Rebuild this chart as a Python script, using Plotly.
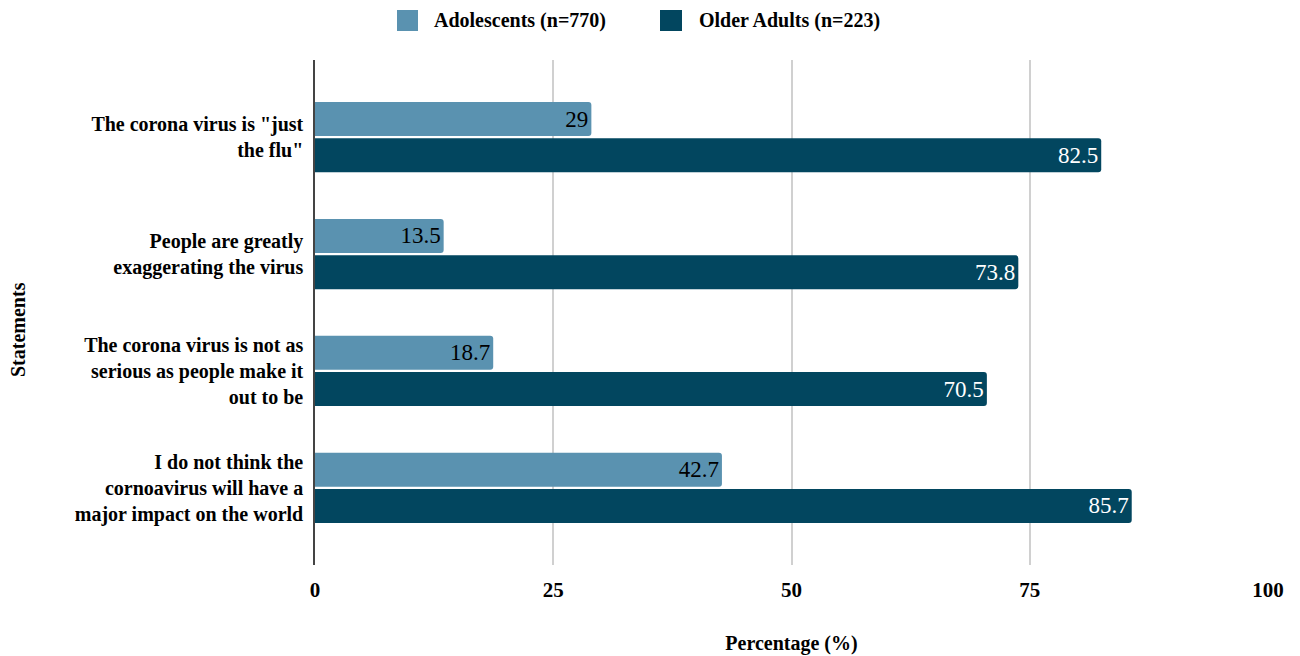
import plotly.graph_objects as go

categories = [
    'The corona virus is "just<br>the flu"',
    'People are greatly<br>exaggerating the virus',
    'The corona virus is not as<br>serious as people make it<br>out to be',
    'I do not think the<br>cornoavirus will have a<br>major impact on the world',
]
adolescents = [29, 13.5, 18.7, 42.7]
older_adults = [82.5, 73.8, 70.5, 85.7]
x_ticks = [0, 25, 50, 75, 100]
series_names = ["Adolescents (n=770)", "Older Adults (n=223)"]
series_colors = ["#5a92b0", "#02465f"]

FONT = "Liberation Serif"
L, R, T, B, W, H = 315, 32, 60, 91, 1300, 656
PW, PH = W - L - R, H - T - B


def px_x(px):
    return (px - L) / PW


def px_y(py):
    return (H - B - py) / PH


fig = go.Figure()
fig.add_trace(go.Bar(
    y=categories, x=adolescents, orientation="h", name=series_names[0],
    marker=dict(color=series_colors[0], line=dict(width=0)),
    text=[f"{v:g}" for v in adolescents], textposition="inside",
    insidetextanchor="end", textfont=dict(color="black", size=23, family=FONT),
    constraintext="none", showlegend=False,
))
fig.add_trace(go.Bar(
    y=categories, x=older_adults, orientation="h", name=series_names[1],
    marker=dict(color=series_colors[1], line=dict(width=0)),
    text=[f"{v:g}" for v in older_adults], textposition="inside",
    insidetextanchor="end", textfont=dict(color="white", size=23, family=FONT),
    constraintext="none", showlegend=False,
))

# custom legend (large squares like the reference)
legend_sq = [(397, 418), (660, 682)]
legend_tx = [432, 697]
shapes, annotations = [], []
for (x0, x1), tx, name, col in zip(legend_sq, legend_tx, series_names, series_colors):
    shapes.append(dict(type="rect", xref="paper", yref="paper",
                       x0=px_x(x0), x1=px_x(x1), y0=px_y(31), y1=px_y(10),
                       fillcolor=col, line=dict(width=0), layer="above"))
    annotations.append(dict(text=name, xref="paper", yref="paper", x=px_x(tx),
                            y=px_y(20.5), xanchor="left", yanchor="middle",
                            showarrow=False,
                            font=dict(size=20, family=FONT, weight="bold")))
annotations.append(dict(text="Statements", xref="paper", yref="paper",
                        x=px_x(18), y=px_y(330), xanchor="center", yanchor="middle",
                        textangle=-90, showarrow=False,
                        font=dict(size=20, family=FONT, weight="bold")))

fig.update_layout(
    width=W, height=H,
    margin=dict(l=L, r=R, t=T, b=B, autoexpand=False),
    paper_bgcolor="white", plot_bgcolor="white",
    font=dict(family=FONT, size=18, color="black"),
    barmode="group", bargap=0.38, bargroupgap=0.06, barcornerradius=3,
    showlegend=False,
    xaxis=dict(range=[0, 100], tickvals=x_ticks, ticktext=[str(t) for t in x_ticks],
               showgrid=True, gridcolor="#d0d0d0", gridwidth=1.5, zeroline=False,
               showline=False, ticks="", tickfont=dict(size=21, weight="bold"),
               ticklabelstandoff=10, automargin=False,
               title=dict(text="Percentage (%)", font=dict(size=20, weight="bold"), standoff=34)),
    yaxis=dict(autorange=False, range=[3.66, -0.66], showgrid=False, zeroline=False,
               showline=True, linecolor="#444444", linewidth=1.5, ticks="",
               ticklabelstandoff=6, tickfont=dict(size=20, weight="bold"),
               automargin=False),
    shapes=shapes,
    annotations=annotations,
)

fig.write_html("out.html")
